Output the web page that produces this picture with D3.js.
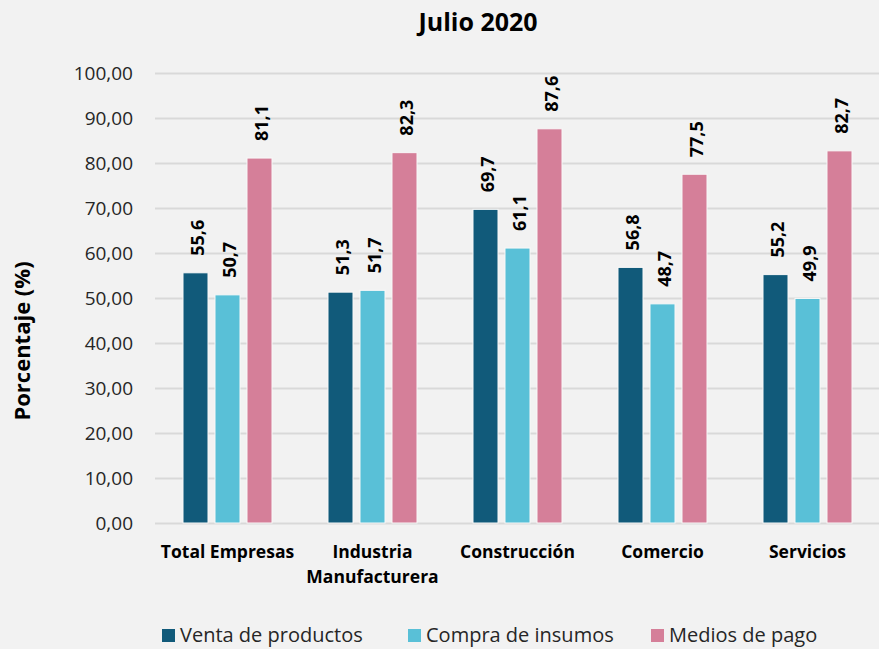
<!DOCTYPE html>
<html>
<head>
<meta charset="utf-8">
<script src="https://cdn.jsdelivr.net/npm/d3@7"></script>
<style>
  body { margin: 0; background: #f2f2f2; }
  svg { display: block; font-family: "Open Sans", "Noto Sans", sans-serif; }
</style>
</head>
<body>
<svg id="chart" width="879" height="649"></svg>
<script>
const categories = [["Total Empresas"], ["Industria", "Manufacturera"], ["Construcción"], ["Comercio"], ["Servicios"]];
const seriesNames = ["Venta de productos", "Compra de insumos", "Medios de pago"];
const venta = [55.6, 51.3, 69.7, 56.8, 55.2];
const compra = [50.7, 51.7, 61.1, 48.7, 49.9];
const medios = [81.1, 82.3, 87.6, 77.5, 82.7];
const yTicks = [0, 10, 20, 30, 40, 50, 60, 70, 80, 90, 100];
const colors = ["#115a7a", "#59c0d7", "#d57f99"];

const values = [venta, compra, medios];
const svg = d3.select('#chart');
const fmt1 = d => d.toFixed(1).replace('.', ',');
const fmt2 = d => d.toFixed(2).replace('.', ',');

const catKeys = categories.map(c => c.join(' '));
const x0 = d3.scaleBand().domain(catKeys).range([155, 880]);
const x1 = d3.scaleBand().domain(seriesNames).range([0, 89]).paddingInner(7 / 32);
const y = d3.scaleLinear().domain([0, 100]).range([523, 73]);
const groupOffset = (x0.bandwidth() - 89) / 2;

// grid + y labels
const yAxis = d3.axisLeft(y).tickValues(yTicks).tickFormat(fmt2).tickSize(-725).tickPadding(22);
const gy = svg.append('g').attr('transform', 'translate(155,0)').call(yAxis);
gy.select('.domain').remove();
gy.selectAll('.tick line').attr('stroke', '#d9d9d9').attr('stroke-width', 2);
gy.selectAll('.tick text').attr('fill', '#262626').style('font-size', '19px').style('font-family', '"Open Sans", sans-serif');

// bars
catKeys.forEach((cat, i) => {
  const g = svg.append('g').attr('transform', `translate(${x0(cat) + groupOffset},0)`);
  seriesNames.forEach((s, j) => {
    const v = values[j][i];
    g.append('rect')
      .attr('x', x1(s)).attr('y', y(v))
      .attr('width', x1.bandwidth()).attr('height', y(0) - y(v))
      .attr('fill', colors[j]).attr('stroke', '#f8f8f8').attr('stroke-width', 1);
    g.append('text')
      .attr('transform', `translate(${x1(s) + x1.bandwidth() / 2 + 8},${y(v) - 17}) rotate(-90)`)
      .attr('font-size', '18px').attr('font-weight', 'bold').attr('fill', '#000')
      .text(fmt1(v));
  });
});

// category labels
const xAxis = svg.append('g');
categories.forEach((lines, i) => {
  const cx = x0(catKeys[i]) + x0.bandwidth() / 2;
  const t = xAxis.append('text')
    .attr('x', cx).attr('y', 558)
    .attr('text-anchor', 'middle')
    .attr('font-size', '17.5px').attr('font-weight', 'bold').attr('fill', '#000');
  lines.forEach((l, k) => t.append('tspan').attr('x', cx).attr('dy', k ? 25 : 0).text(l));
});

// title
svg.append('text').attr('x', 478).attr('y', 31).attr('text-anchor', 'middle')
  .attr('font-size', '25px').attr('font-weight', 'bold').text('Julio 2020');

// y title
svg.append('text').attr('transform', 'translate(30,341) rotate(-90)').attr('text-anchor', 'middle')
  .attr('font-size', '22px').attr('font-weight', 'bold').text('Porcentaje (%)');

// legend
const legendX = [162, 408, 651];
seriesNames.forEach((s, j) => {
  svg.append('rect').attr('x', legendX[j]).attr('y', 629).attr('width', 13).attr('height', 13).attr('fill', colors[j]);
  svg.append('text').attr('x', legendX[j] + 18).attr('y', 642)
    .attr('font-size', '20px').attr('fill', '#262626').text(s);
});
</script>
</body>
</html>
